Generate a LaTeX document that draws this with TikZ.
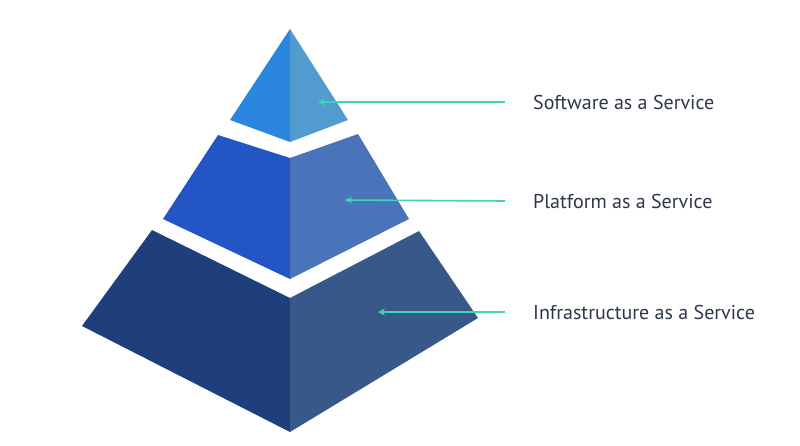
\documentclass[tikz,border=0pt]{standalone}
\usepackage{fontspec}
\setmainfont{PT Sans}
\usetikzlibrary{arrows.meta}
\definecolor{tl}{HTML}{2B86DD}\definecolor{tr}{HTML}{519BCF}
\definecolor{ml}{HTML}{2356C4}\definecolor{mr}{HTML}{4A74BA}
\definecolor{bl}{HTML}{1F3F7C}\definecolor{br}{HTML}{375889}
\definecolor{arr}{HTML}{3DD6B0}\definecolor{txt}{HTML}{2D3748}
\begin{document}
\begin{tikzpicture}[x=1pt,y=-1pt,
  lbl/.style={anchor=west,text=txt,font=\fontsize{20}{24}\selectfont,inner sep=0},
  con/.style={draw=arr,line width=1.6pt,-{Stealth[length=7pt,width=7pt]}}]
\useasboundingbox[fill=white] (0,0) rectangle (800,445);
\fill[tl] (290,29) -- (230,120) -- (290,142) -- cycle;
\fill[tr] (290,29) -- (348,120) -- (290,142) -- cycle;
\fill[ml] (218,135) -- (290,158) -- (290,279) -- (163,219) -- cycle;
\fill[mr] (358,134) -- (290,158) -- (290,279) -- (409,219) -- cycle;
\fill[bl] (152,230) -- (290,298) -- (290,432) -- (82,326) -- cycle;
\fill[br] (419,231) -- (290,298) -- (290,432) -- (478,318) -- cycle;
\coordinate (p1) at (318,102);
\coordinate (p2) at (345,200);
\coordinate (p3) at (378,312);
\node[lbl] (t1) at (533,102) {Software as a Service};
\node[lbl] (t2) at (533,201) {Platform as a Service};
\node[lbl] (t3) at (533,312) {Infrastructure as a Service};
\draw[con] ([xshift=-28pt]t1.west) -- (p1);
\draw[con] ([xshift=-28pt]t2.west) -- (p2);
\draw[con] ([xshift=-28pt]t3.west) -- (p3);
\end{tikzpicture}
\end{document}
